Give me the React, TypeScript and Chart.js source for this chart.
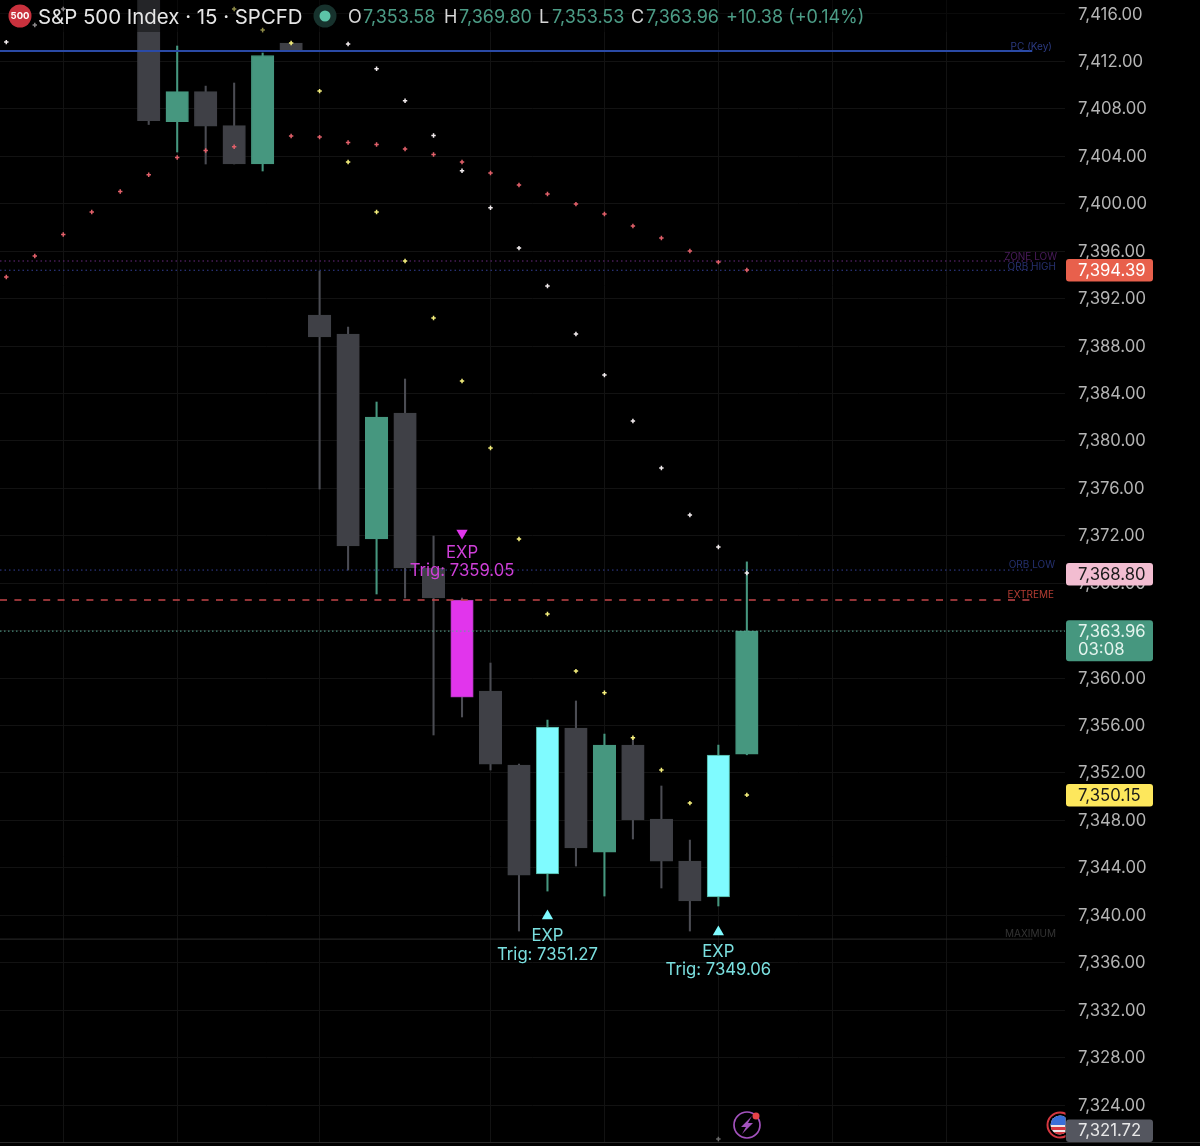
import React, { useEffect, useRef } from "react";
import { Chart, registerables } from "chart.js";

Chart.register(...registerables);

// ---- candles (index along the bar axis, OHLC)
const candleIndex = [5, 6, 7, 8, 9, 10, 11, 12, 13, 14, 15, 16, 17, 18, 19, 20, 21, 22, 23, 24, 25, 26];
const opens = [7420, 7406.91, 7409.46, 7406.59, 7403.35, 7413.55, 7390.61, 7389.01, 7371.73, 7382.35, 7369.28, 7366.58, 7358.91, 7352.67, 7343.48, 7355.79, 7345.33, 7354.35, 7348.11, 7344.57, 7341.54, 7353.58];
const closes = [7407.01, 7409.46, 7406.55, 7403.35, 7412.5, 7412.88, 7388.76, 7371.14, 7382.01, 7369.28, 7366.75, 7358.4, 7352.75, 7343.39, 7355.87, 7345.67, 7354.35, 7348.03, 7344.57, 7341.2, 7353.51, 7363.96];
const highs = [7420, 7413.3, 7409.92, 7410.18, 7412.71, 7413.55, 7394.32, 7389.6, 7383.28, 7385.22, 7371.98, 7366.75, 7361.27, 7352.75, 7356.46, 7358.07, 7355.28, 7355.03, 7350.9, 7346.34, 7354.35, 7369.8];
const lows = [7406.68, 7404.36, 7403.35, 7403.35, 7402.76, 7412.88, 7375.94, 7369.11, 7367.09, 7366.75, 7355.2, 7356.72, 7352.25, 7338.67, 7342.04, 7344.15, 7341.62, 7346.43, 7342.3, 7338.67, 7340.78, 7353.53];
const candleKinds = ["down", "up", "down", "down", "up", "down", "down", "down", "up", "down", "down", "magenta", "down", "down", "cyan", "down", "up", "down", "down", "down", "cyan", "up"];

// ---- indicator dots, one value per bar index (null = no dot)
const redDots = [7393.82, 7395.59, 7397.4, 7399.3, 7401.03, 7402.44, 7403.9, 7404.49, 7404.81, null, 7405.71, 7405.62, 7405.16, 7404.99, 7404.61, 7404.15, 7403.52, 7402.59, 7401.58, 7400.82, 7399.97, 7399.13, 7398.12, 7397.11, 7396.01, 7395.08, 7394.41];
const whiteDots = [7413.63, 7415.07, 7416.42, null, null, null, null, null, null, null, null, null, 7413.47, 7411.38, 7408.68, 7405.75, 7402.78, 7399.66, 7396.26, 7393.06, 7389.01, 7385.55, 7381.68, 7377.71, 7373.75, 7371.05, 7368.86];
const yellowDots = [null, null, null, null, null, null, null, null, 7416.42, 7414.65, 7413.55, 7409.5, 7403.52, 7399.3, 7395.17, 7390.36, 7385.05, 7379.4, 7371.73, 7365.4, 7360.59, 7358.76, 7354.97, 7352.25, 7349.46, null, 7350.15];
const grayDots = [{ x: 25, y: 7321.13 }];

// ---- axis
const priceTicks = [7324, 7328, 7332, 7336, 7340, 7344, 7348, 7352, 7356, 7360, 7364, 7368, 7372, 7376, 7380, 7384, 7388, 7392, 7396, 7400, 7404, 7408, 7412, 7416];
const timeGridIndex = [2, 6, 11, 17, 21, 25, 29, 33];
const indexMin = -0.221;
const indexMax = 37.17;
const priceMin = 7320.88;
const priceMax = 7417.18;

// ---- levels
const levelEnd = 36.02;
const levelNames = ["PC (Key)", "ZONE LOW", "ORB HIGH", "ORB LOW", "EXTREME", "MAXIMUM"];
const levelValues = [7412.88, 7395.17, 7394.39, 7369.11, 7366.58, 7337.99];
const levelLineColors = ["#2a4aa6", "#6a2a80", "#34409a", "#34409a", "#c4454a", "#2c2c2c"];
const levelTextColors = ["#2b3a80", "#4a1c5c", "#27306e", "#24306e", "#b23c32", "#343434"];
const levelCaptionRight = [1052, 1057, 1056, 1055, 1054, 1056];
const levelCaptionLift = [3.5, 4, 3.3, 5, 5, 5];
const levelDashes = [[], [1.5, 3], [1.5, 3], [1.5, 3], [7, 7.4], []];
const levelWidths = [2, 1, 1, 1, 1.5, 1];
const lastPrice = 7363.96;

// ---- signals
const signalIndex = [16, 19, 25];
const signalPrices = [7372.23, 7339.94, 7338.59];
const signalTitles = ["EXP", "EXP", "EXP"];
const signalTrigs = ["Trig: 7359.05", "Trig: 7351.27", "Trig: 7349.06"];
const signalColors = ["#e135ec", "#7ffbff", "#7ffbff"];
const signalTextColors = ["#cf3fd8", "#7be0e0", "#7be0e0"];

// ---- price badges
const badgeValues = [7394.39, 7368.8, 7363.96, 7350.15, 7321.72];
const badgeLabels = ["7,394.39", "7,368.80", "7,363.96", "7,350.15", "7,321.72"];
const badgeFills = ["#e8604c", "#f2bdd1", "#46977f", "#fde75c", "#54565f"];
const badgeInks = ["#ffffff", "#1a1a1a", "#e4f4ee", "#1a1a1a", "#e8e8e8"];

// ---- header
const headerTitle = "S&P 500 Index · 15 · SPCFD";
const ohlcNames = ["O", "H", "L", "C"];
const ohlcValues = ["7,353.58", "7,369.80", "7,353.53", "7,363.96"];
const ohlcChange = "+10.38 (+0.14%)";

const FONT = "Inter, 'Noto Sans', sans-serif";
const GREEN = "#46977f";
const kindFill: Record<string, string> = { up: GREEN, down: "#3f4046", cyan: "#7ffbff", magenta: "#e135ec" };
const kindBorder: Record<string, string> = { up: GREEN, down: "#3f4046", cyan: "#4fae9c", magenta: "#a83ab4" };
const kindWick: Record<string, string> = { up: GREEN, down: "#4b4c53", cyan: GREEN, magenta: "#4b4c53" };

const toPoints = (vals: (number | null)[]) =>
  vals.flatMap((v, i) => (v === null ? [] : [{ x: i, y: v }]));

function roundRect(ctx: CanvasRenderingContext2D, x: number, y: number, w: number, h: number, r: number) {
  ctx.beginPath();
  ctx.roundRect(x, y, w, h, r);
  ctx.fill();
}

const overlayPlugin = {
  id: "overlay",
  afterDraw(chart: any) {
    const { ctx, scales, chartArea, width } = chart;
    const xs = scales.x;
    const ys = scales.y;
    ctx.save();
    ctx.textBaseline = "middle";
    ctx.textAlign = "left";

    // Bottom rule
    ctx.fillStyle = "#2a2a2a";
    ctx.fillRect(0, chartArea.bottom, width, 1);

    // Header veil
    ctx.fillStyle = "rgba(0,0,0,0.42)";
    ctx.fillRect(0, 0, chartArea.right, 32);

    // Level captions
    ctx.font = `10px ${FONT}`;
    ctx.textAlign = "right";
    levelNames.forEach((n, i) => {
      ctx.fillStyle = levelTextColors[i];
      ctx.fillText(n, levelCaptionRight[i], ys.getPixelForValue(levelValues[i]) - levelCaptionLift[i]);
    });
    ctx.textAlign = "center";

    // Signal captions
    ctx.font = `16.7px ${FONT}`;
    const gaps = [[20, 38], [20, 39], [20, 38]];
    signalIndex.forEach((ix, i) => {
      const x = xs.getPixelForValue(ix);
      const y = ys.getPixelForValue(signalPrices[i]);
      ctx.fillStyle = signalTextColors[i];
      ctx.fillText(signalTitles[i], x, y + gaps[i][0]);
      ctx.fillText(signalTrigs[i], x, y + gaps[i][1]);
    });

    // Header text
    ctx.textAlign = "left";
    ctx.fillStyle = "#c9313d";
    ctx.beginPath();
    ctx.arc(20, 16, 11.5, 0, Math.PI * 2);
    ctx.fill();
    ctx.fillStyle = "#ffffff";
    ctx.font = `bold 9.5px ${FONT}`;
    ctx.textAlign = "center";
    ctx.fillText("500", 20, 16.5);
    ctx.textAlign = "left";
    ctx.fillStyle = "#e6e6e6";
    ctx.font = `20.4px ${FONT}`;
    ctx.fillText(headerTitle, 38, 17.5);

    ctx.fillStyle = "#17322d";
    ctx.beginPath();
    ctx.arc(325, 16, 11.5, 0, Math.PI * 2);
    ctx.fill();
    ctx.fillStyle = "#5cc4a8";
    ctx.beginPath();
    ctx.arc(325, 16, 5.5, 0, Math.PI * 2);
    ctx.fill();

    ctx.font = `18px ${FONT}`;
    const nameX = [348, 444, 539, 631];
    const valueX = [363, 459, 552, 646];
    ohlcNames.forEach((n, i) => {
      ctx.fillStyle = "#d6d6d6";
      ctx.fillText(n, nameX[i], 18);
      ctx.fillStyle = "#4c9c86";
      ctx.fillText(ohlcValues[i], valueX[i], 18);
    });
    ctx.fillText(ohlcChange, 726, 18);

    // Lightning icon
    ctx.strokeStyle = "#a352bd";
    ctx.lineWidth = 1.7;
    ctx.beginPath();
    ctx.arc(747, 1125, 13, 0, Math.PI * 2);
    ctx.stroke();
    ctx.fillStyle = "#a352bd";
    ctx.beginPath();
    ctx.moveTo(752, 1116);
    ctx.lineTo(741, 1127);
    ctx.lineTo(746, 1127);
    ctx.lineTo(742, 1134);
    ctx.lineTo(753, 1123);
    ctx.lineTo(748, 1123);
    ctx.closePath();
    ctx.fill();
    ctx.fillStyle = "#e8434a";
    ctx.beginPath();
    ctx.arc(756, 1116, 3.5, 0, Math.PI * 2);
    ctx.fill();

    // Flag icon
    ctx.save();
    ctx.beginPath();
    ctx.rect(1040, 1105, 25.5, 40);
    ctx.clip();
    ctx.beginPath();
    ctx.arc(1060, 1125, 12.5, 0, Math.PI * 2);
    ctx.fillStyle = "#000";
    ctx.fill();
    ctx.strokeStyle = "#d5373f";
    ctx.lineWidth = 2;
    ctx.stroke();
    ctx.beginPath();
    ctx.arc(1060, 1125, 9.5, 0, Math.PI * 2);
    ctx.clip();
    ctx.fillStyle = "#f1e6e6";
    ctx.fillRect(1048, 1114, 25, 24);
    ctx.fillStyle = "#d5373f";
    ctx.fillRect(1048, 1127, 25, 3);
    ctx.fillRect(1048, 1132, 25, 3);
    ctx.fillStyle = "#3a6fd8";
    ctx.fillRect(1048, 1114, 20, 11);
    ctx.restore();

    // Price badges
    ctx.font = `16.7px ${FONT}`;
    badgeValues.forEach((v, i) => {
      const y = Math.round(ys.getPixelForValue(v));
      const h = i === 2 ? 41 : 22.4;
      const top = Math.min(i === 2 ? y - 10.7 : y - 11, chartArea.bottom - h);
      ctx.fillStyle = badgeFills[i];
      roundRect(ctx, 1066, top, 87, h, 3);
      ctx.fillStyle = badgeInks[i];
      ctx.fillText(badgeLabels[i], 1078, top + 11.5);
      if (i === 2) ctx.fillText("03:08", 1078, top + 29.5);
    });
    ctx.restore();
  },
};

export default function App() {
  const ref = useRef<HTMLCanvasElement>(null);

  useEffect(() => {
    document.body.style.margin = "0";
    document.body.style.background = "#000";
    const wicks = candleIndex.map((x, i) => ({ x, y: [lows[i], highs[i]] }));
    const bodies = candleIndex.map((x, i) => ({ x, y: [opens[i], closes[i]] }));

    const chart = new Chart(ref.current!, {
      type: "bar",
      data: {
        datasets: [
          {
            type: "bar",
            order: 6,
            grouped: false,
            barThickness: 1.4,
            data: wicks,
            backgroundColor: candleKinds.map((k) => kindWick[k]),
          },
          {
            type: "bar",
            order: 5,
            grouped: false,
            barThickness: 22.5,
            data: bodies,
            backgroundColor: candleKinds.map((k) => kindFill[k]),
            borderColor: candleKinds.map((k) => kindBorder[k]),
            borderWidth: 1,
            borderSkipped: false,
          },
          ...levelValues.map((v, i) => ({
            type: "line",
            order: 4,
            data: [
              { x: indexMin, y: v },
              { x: levelEnd, y: v },
            ],
            borderColor: levelLineColors[i],
            borderWidth: levelWidths[i],
            borderDash: levelDashes[i],
            pointRadius: 0,
          })),
          {
            type: "line",
            order: 4,
            data: [
              { x: indexMin, y: lastPrice },
              { x: indexMax, y: lastPrice },
            ],
            borderColor: "#5aaa96",
            borderWidth: 1,
            borderDash: [1.5, 2.5],
            pointRadius: 0,
          },
          ...[
            { d: toPoints(redDots), c: "#e2606a" },
            { d: toPoints(whiteDots), c: "#f2ecee" },
            { d: toPoints(yellowDots), c: "#f5ef7c" },
            { d: grayDots, c: "#6a6a6a" },
          ].map((s) => ({
            type: "scatter",
            order: 2,
            data: s.d,
            pointStyle: "cross",
            pointRadius: 2.2,
            pointBorderWidth: 1.5,
            pointBorderColor: s.c,
            pointBackgroundColor: s.c,
          })),
          {
            type: "scatter",
            order: 1,
            data: signalIndex.map((x, i) => ({ x, y: signalPrices[i] })),
            pointStyle: "triangle",
            pointRadius: 6.5,
            pointRotation: [180, 0, 0],
            pointBackgroundColor: signalColors,
            pointBorderColor: signalColors,
            pointBorderWidth: 0,
          },
        ] as any,
      },
      options: {
        responsive: false,
        animation: false,
        events: [],
        layout: { padding: 0, autoPadding: false },
        plugins: { legend: { display: false }, tooltip: { enabled: false } },
        scales: {
          x: {
            type: "linear",
            min: indexMin,
            max: indexMax,
            offset: false,
            border: { display: false },
            grid: { color: "#121212", lineWidth: 1, offset: false, drawTicks: false },
            ticks: { display: false },
            afterBuildTicks: (s: any) => {
              s.ticks = timeGridIndex.map((value) => ({ value }));
            },
            afterFit: (s: any) => {
              s.height = 4;
              s.paddingLeft = s.paddingRight = 0;
            },
          },
          y: {
            type: "linear",
            position: "right",
            min: priceMin,
            max: priceMax,
            border: { display: false },
            grid: { color: "#121212", lineWidth: 1, drawTicks: false },
            ticks: {
              color: "#b4b4b4",
              padding: 13,
              autoSkip: false,
              labelOffset: 0.5,
              font: { family: FONT, size: 16.7 },
              callback: (v: any) =>
                Number(v).toLocaleString("en-US", { minimumFractionDigits: 2, maximumFractionDigits: 2 }),
            },
            afterBuildTicks: (s: any) => {
              s.ticks = priceTicks.map((value) => ({ value }));
            },
            afterFit: (s: any) => {
              s.width = 135;
              s.paddingTop = s.paddingBottom = 0;
            },
          },
        },
      } as any,
      plugins: [overlayPlugin],
    } as any);
    return () => chart.destroy();
  }, []);

  return (
    <div style={{ position: "absolute", left: 0, top: 0, width: 1200, height: 1146, background: "#000" }}>
      <canvas ref={ref} width={1200} height={1146} style={{ display: "block" }} />
    </div>
  );
}
